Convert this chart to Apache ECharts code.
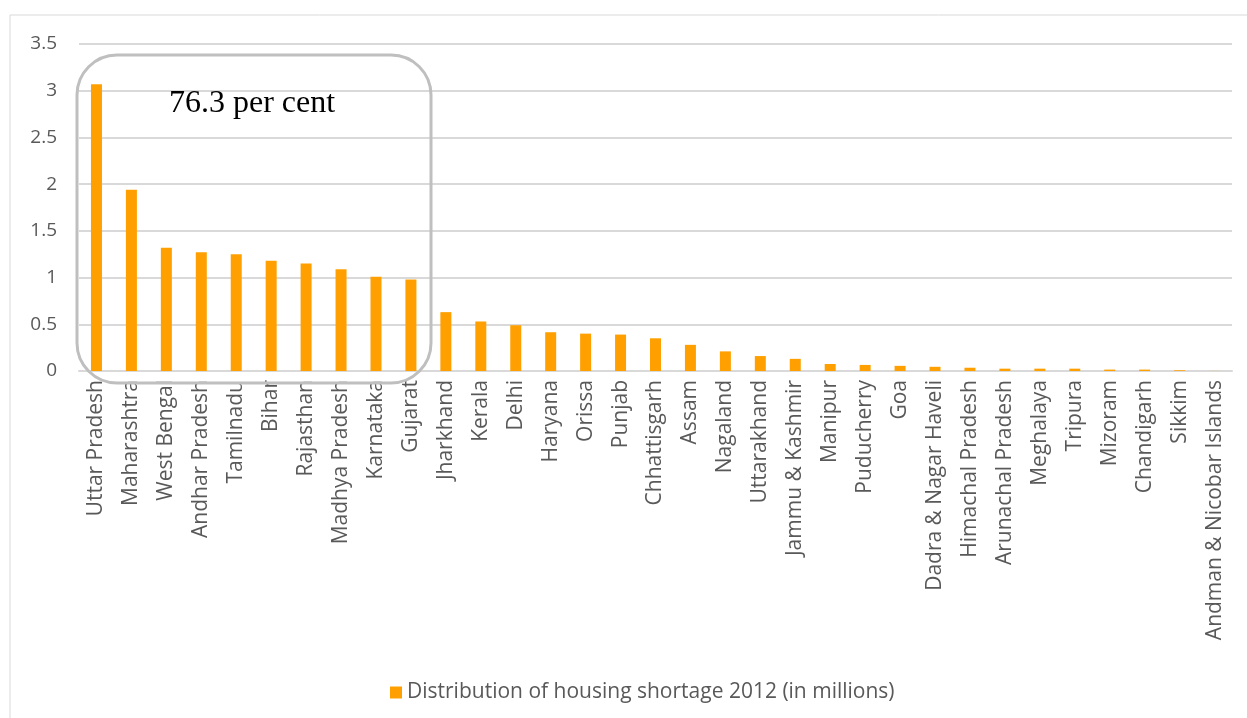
<!DOCTYPE html>
<html>
<head>
<meta charset="utf-8">
<script src="https://cdn.jsdelivr.net/npm/echarts@6/dist/echarts.min.js"></script>
<style>
  html, body { margin: 0; padding: 0; background: #fff; }
  #chart { width: 1247px; height: 718px; }
</style>
</head>
<body>
<div id="chart"></div>
<script>
// states, sorted by shortage
const states = [
  "Uttar Pradesh", "Maharashtra", "West Bengal", "Andhar Pradesh", "Tamilnadu",
  "Bihar", "Rajasthan", "Madhya Pradesh", "Karnataka", "Gujarat",
  "Jharkhand", "Kerala", "Delhi", "Haryana", "Orissa", "Punjab",
  "Chhattisgarh", "Assam", "Nagaland", "Uttarakhand", "Jammu & Kashmir",
  "Manipur", "Puducherry", "Goa", "Dadra & Nagar Haveli", "Himachal Pradesh",
  "Arunachal Pradesh", "Meghalaya", "Tripura", "Mizoram", "Chandigarh",
  "Sikkim", "Andman & Nicobar Islands"
];
// housing shortage 2012, millions
const shortage = [
  3.07, 1.94, 1.32, 1.27, 1.25, 1.18, 1.15, 1.09, 1.01, 0.98,
  0.63, 0.53, 0.49, 0.415, 0.40, 0.39, 0.35, 0.28, 0.21, 0.16,
  0.13, 0.075, 0.065, 0.055, 0.045, 0.035, 0.025, 0.025, 0.025, 0.015,
  0.015, 0.008, 0.001
];
const seriesName = "Distribution of housing shortage 2012 (in millions)";
const annotation = "76.3 per cent";

const chart = echarts.init(document.getElementById("chart"));
chart.setOption({
  animation: false,
  grid: { left: 79, right: 15, top: 44, bottom: 347 },
  legend: {
    top: 677,
    left: 385,
    icon: "rect",
    itemWidth: 12,
    itemHeight: 12,
    itemGap: 5,
    textStyle: { color: "#595959", fontSize: 21, fontFamily: "Open Sans" },
    data: [seriesName]
  },
  xAxis: {
    type: "category",
    data: states,
    axisTick: { show: false },
    axisLine: { lineStyle: { color: "#d9d9d9", width: 2 } },
    axisLabel: {
      interval: 0,
      rotate: 90,
      color: "#595959",
      fontSize: 21,
      fontFamily: "Open Sans",
      margin: 9
    }
  },
  yAxis: {
    type: "value",
    min: 0,
    max: 3.5,
    interval: 0.5,
    axisLine: { show: false },
    axisTick: { show: false },
    splitLine: { lineStyle: { color: "#d9d9d9", width: 2 } },
    axisLabel: { color: "#595959", fontSize: 19, fontFamily: "Open Sans", margin: 22 }
  },
  series: [{
    name: seriesName,
    type: "bar",
    data: shortage,
    barWidth: 11,
    itemStyle: { color: "#ffa000" }
  }],
  graphic: [
    {
      type: "rect",
      shape: { x: 10, y: 15, width: 1250, height: 720 },
      style: { fill: null, stroke: "#d9d9d9", lineWidth: 1 },
      silent: true
    },
    {
      type: "rect",
      shape: { x: 77, y: 55, width: 354, height: 328, r: 40 },
      style: { fill: null, stroke: "#bfbfbf", lineWidth: 3 },
      z: 10
    },
    {
      type: "text",
      x: 252,
      y: 104,
      style: {
        text: annotation,
        fill: "#000",
        align: "center",
        verticalAlign: "middle",
        font: "32px 'Liberation Serif', 'Times New Roman', serif"
      },
      z: 11
    }
  ]
});
</script>
</body>
</html>
